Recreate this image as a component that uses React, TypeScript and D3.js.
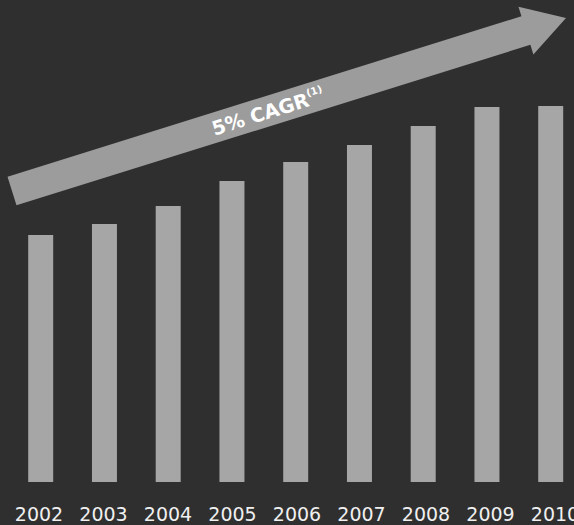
import React from "react";
import * as d3 from "d3";

const years = ["2002", "2003", "2004", "2005", "2006", "2007", "2008", "2009", "2010"];
const values = [247, 258, 276, 301, 320, 337, 356, 375, 376];
const cagrLabel = "5% CAGR";
const cagrNote = "(1)";

const W = 574;
const H = 525;

export default function App() {
  const x = d3.scaleBand<string>().domain(years).range([2.7, 588.7]).paddingInner(0.608).paddingOuter(0.4);
  const xl = d3.scalePoint<string>().domain(years).range([39, 555]);
  const y = d3.scaleLinear().domain([0, 400]).range([482, 82]);

  // arrow geometry
  const tail: [number, number] = [12, 191];
  const tip: [number, number] = [566, 18];
  const dx = tip[0] - tail[0];
  const dy = tip[1] - tail[1];
  const len = Math.sqrt(dx * dx + dy * dy);
  const ang = (Math.atan2(dy, dx) * 180) / Math.PI;
  const headLen = 42;
  const shaftHalf = 15;
  const headHalf = 25;
  const arrowPath = d3.path();
  arrowPath.moveTo(0, -shaftHalf);
  arrowPath.lineTo(len - headLen, -shaftHalf);
  arrowPath.lineTo(len - headLen, -headHalf);
  arrowPath.lineTo(len, 0);
  arrowPath.lineTo(len - headLen, headHalf);
  arrowPath.lineTo(len - headLen, shaftHalf);
  arrowPath.lineTo(0, shaftHalf);
  arrowPath.closePath();

  return (
    <svg
      width={W}
      height={H}
      style={{ position: "fixed", left: 0, top: 0, display: "block" }}
    >
      <rect x={0} y={0} width={W} height={H} fill="#2f2f2f" />
      {years.map((yr, i) => (
        <rect
          key={yr}
          x={x(yr)}
          y={y(values[i])}
          width={x.bandwidth()}
          height={y(0) - y(values[i])}
          fill="#a6a6a6"
        />
      ))}
      <g transform={`translate(${tail[0]},${tail[1]}) rotate(${ang})`}>
        <path d={arrowPath.toString()} fill="#9c9c9c" />
        <text
          x={268}
          y={2}
          textAnchor="middle"
          dominantBaseline="middle"
          fontFamily="DejaVu Sans, sans-serif"
          fontWeight="bold"
          fontSize={19.5}
          fill="#ffffff"
        >
          {cagrLabel}
          <tspan fontSize={10} dy={-7}>{cagrNote}</tspan>
        </text>
      </g>
      {years.map((yr) => (
        <text
          key={"l" + yr}
          x={xl(yr)}
          y={520.5}
          textAnchor="middle"
          fontFamily="DejaVu Sans, sans-serif"
          fontSize={19}
          fill="#f0f0f0"
        >
          {yr}
        </text>
      ))}
    </svg>
  );
}
